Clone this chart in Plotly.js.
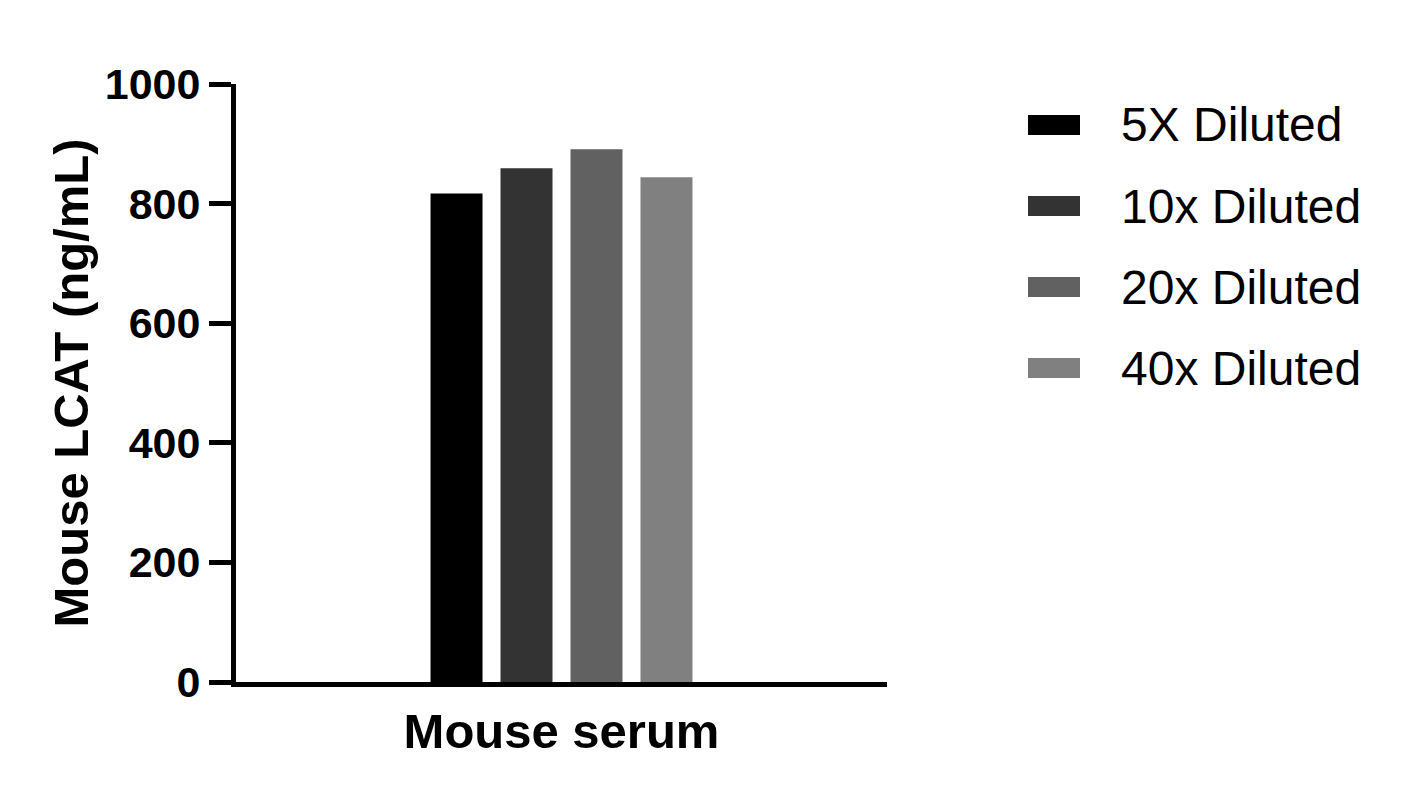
<!DOCTYPE html>
<html>
<head>
<meta charset="utf-8">
<script src="https://cdn.plot.ly/plotly-3.0.1.min.js"></script>
<style>
  html, body { margin: 0; padding: 0; background: #fff; }
  #chart { width: 1404px; height: 804px; }
</style>
</head>
<body>
<div id="chart"></div>
<script>
// data
var category = ['Mouse serum'];
var seriesNames = ['5X Diluted', '10x Diluted', '20x Diluted', '40x Diluted'];
var seriesValues = [817, 859, 891, 844];
var seriesColors = ['#000000', '#333333', '#616161', '#808080'];
var yTicks = [0, 200, 400, 600, 800, 1000];

var font = 'Liberation Sans, Arial, Helvetica, sans-serif';

// plot box in pixels
var W = 1404, H = 804;
var m = { l: 236, r: 517, t: 84, b: 122 };
var plotW = W - m.l - m.r;
var plotH = H - m.t - m.b;
function px2x(p) { return (p - m.l) / plotW; }
function px2y(p) { return (H - m.b - p) / plotH; }

var traces = [];
for (var i = 0; i < seriesNames.length; i++) {
    traces.push({
        type: 'bar',
        x: category,
        y: [seriesValues[i]],
        name: seriesNames[i],
        marker: { color: seriesColors[i], line: { width: 0 } },
        hoverinfo: 'name+y'
    });
}

// legend drawn by hand so the swatches are wide flat bars like the original
var legendLeft = 1028, swatchW = 52, swatchH = 20, textLeft = 1119;
var rowTop = 125, rowStep = 81;
var shapes = [], annotations = [];
for (var i = 0; i < seriesNames.length; i++) {
    var yc = rowTop + rowStep * i;
    shapes.push({
        type: 'rect', xref: 'paper', yref: 'paper',
        x0: px2x(legendLeft), x1: px2x(legendLeft + swatchW),
        y0: px2y(yc + swatchH / 2), y1: px2y(yc - swatchH / 2),
        fillcolor: seriesColors[i], line: { width: 0 }
    });
    annotations.push({
        xref: 'paper', yref: 'paper',
        x: px2x(textLeft), y: px2y(yc),
        xanchor: 'left', yanchor: 'middle',
        text: seriesNames[i], showarrow: false,
        font: { family: font, size: 48, color: '#000000' }
    });
}

var layout = {
    width: W,
    height: H,
    margin: m,
    paper_bgcolor: '#ffffff',
    plot_bgcolor: '#ffffff',
    barmode: 'group',
    bargap: 0.57,
    bargroupgap: 0.257,
    showlegend: false,
    font: { family: font, color: '#000000' },
    xaxis: {
        type: 'category',
        range: [-0.5, 0.5],
        showline: true,
        linecolor: '#000000',
        linewidth: 5,
        ticks: '',
        showgrid: false,
        zeroline: false,
        tickfont: { family: font, size: 49, color: '#000000', weight: 'bold' },
        ticklabelstandoff: 2,
        fixedrange: true
    },
    yaxis: {
        range: [0, 1000],
        tickvals: yTicks,
        ticktext: yTicks.map(String),
        showline: true,
        linecolor: '#000000',
        linewidth: 5,
        ticks: 'outside',
        ticklen: 22,
        tickwidth: 5,
        tickcolor: '#000000',
        showgrid: false,
        zeroline: false,
        tickfont: { family: font, size: 43, color: '#000000', weight: 'bold' },
        title: {
            text: 'Mouse LCAT (ng/mL)',
            font: { family: font, size: 49, color: '#000000', weight: 'bold' },
            standoff: 2
        },
        fixedrange: true
    },
    shapes: shapes,
    annotations: annotations
};

Plotly.newPlot('chart', traces, layout, { displayModeBar: false, staticPlot: true });
</script>
</body>
</html>
